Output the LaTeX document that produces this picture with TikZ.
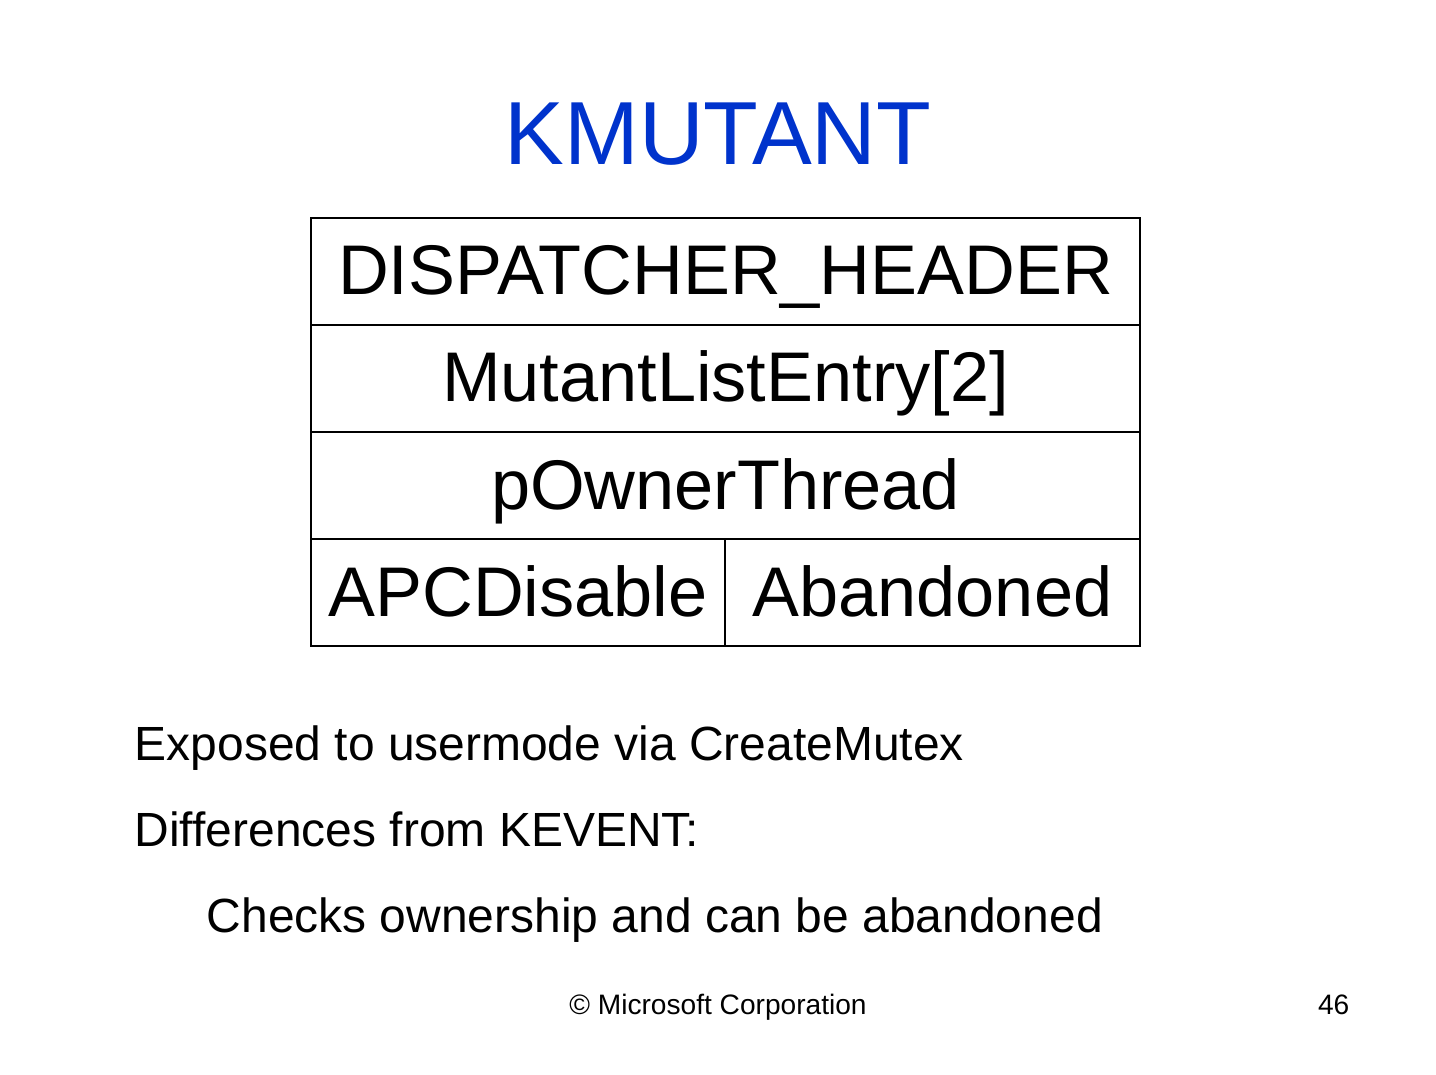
\documentclass[tikz,border=0pt]{standalone}
\usepackage{fontspec}
\setmainfont{Liberation Sans}
\usetikzlibrary{positioning}
\definecolor{titleblue}{RGB}{0,51,204}
\begin{document}
\begin{tikzpicture}[x=1mm,y=1mm,
    cell/.style={draw,line width=0.3pt,outer sep=0pt,minimum height=10.7mm,inner sep=0pt,
      text height=6mm,text depth=1.3mm,font=\fontsize{20}{24}\selectfont},
    line/.style={anchor=base west,inner sep=0pt,font=\fontsize{13.65}{16}\selectfont}]
        \useasboundingbox (0,0) rectangle (143.6,107.4);
        \node[anchor=base,text=titleblue,inner sep=0pt,font=\fontsize{25.5}{30}\selectfont] (title) at (71.8,90.9) {KMUTANT};
        % structure fields
        \node[cell,minimum width=82.9mm] (hdr) at (72.55,80.25) {DISPATCHER\_HEADER};
        \node[cell,minimum width=82.9mm,below=0pt of hdr] (mle) {MutantListEntry[2]};
        \node[cell,minimum width=82.9mm,below=0pt of mle] (own) {pOwnerThread};
        \node[cell,minimum width=41.4mm,anchor=north west] (apc) at (own.south west) {APCDisable};
        \node[cell,minimum width=41.5mm,anchor=north west] (aban) at (apc.north east) {Abandoned};
        % notes
        \node[line] (n1) at (13.4,31.4) {Exposed to usermode via CreateMutex};
        \node[line] (n2) at (13.4,22.8) {Differences from KEVENT:};
        \node[line] (n3) at (20.6,14.2) {Checks ownership and can be abandoned};
        \node[anchor=base,inner sep=0pt,font=\fontsize{8}{10}\selectfont] (copy) at (71.8,6.0) {\textcopyright{} Microsoft Corporation};
        \node[anchor=base east,inner sep=0pt,font=\fontsize{8}{10}\selectfont] (page) at (135.0,6.0) {46};
\end{tikzpicture}
\end{document}
